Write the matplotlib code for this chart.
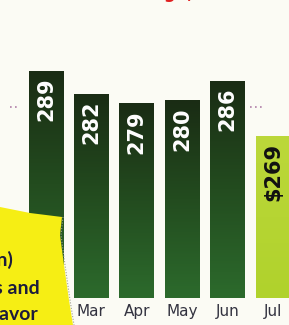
import matplotlib
matplotlib.use("Agg")
import matplotlib.pyplot as plt
import numpy as np
from matplotlib.colors import LinearSegmentedColormap
from matplotlib.patches import Polygon

months = ["Feb", "Mar", "Apr", "May", "Jun", "Jul"]
values = [289, 282, 279, 280, 286, 269]
labels = ["289", "282", "279", "280", "286", "$269"]
avg_value = 278

W, H = 289, 325
fig = plt.figure(figsize=(W / 100, H / 100), dpi=100)
bg = "#fbfbf4"
fig.patch.set_facecolor(bg)

ax = fig.add_axes([0, 1 - 298 / H, 1, 298 / H])
ax.set_facecolor(bg)

x = np.arange(len(months))
ylo, yhi = 219.2, 310.8
xlo, xhi = -1.013, -1.013 + W / 45.4

bars = ax.bar(x, values, width=0.77, color=["#24471c"] * 5 + ["#b5d334"], zorder=2)

dark = LinearSegmentedColormap.from_list("g", ["#2c6a2c", "#234c1f", "#1a2c14"])
grad = np.linspace(0, 1, 100).reshape(-1, 1)
for i, b in enumerate(bars[:5]):
    im = ax.imshow(grad, extent=[b.get_x(), b.get_x() + b.get_width(), ylo, values[i]],
                   origin="lower", aspect="auto", cmap=dark, zorder=3)
    im.set_clip_path(b)
lime = LinearSegmentedColormap.from_list("l", ["#b0d22c", "#bcd83a"])
b = bars[5]
im = ax.imshow(grad, extent=[b.get_x(), b.get_x() + b.get_width(), ylo, values[5]],
               origin="lower", aspect="auto", cmap=lime, zorder=3)
im.set_clip_path(b)

for i, (v, lab) in enumerate(zip(values, labels)):
    ax.annotate(lab, (x[i], v), xytext=(0, -5), textcoords="offset points",
                rotation=90, ha="center", va="top", fontsize=15, fontweight="bold",
                color="white" if i < 5 else "#111111", zorder=5)

# average dotted marks
ax.hlines(avg_value, -0.79, -0.64, colors="#b07fa8", linestyles=(0, (1, 2)), lw=1.2, zorder=1)
ax.hlines(avg_value, 4.49, 4.78, colors="#b07fa8", linestyles=(0, (1, 2)), lw=1.2, zorder=1)

ax.set_xlim(xlo, xhi)
ax.set_ylim(ylo, yhi)
ax.set_xticks(x)
ax.set_xticklabels(months, fontsize=11, color="#333340")
ax.tick_params(axis="x", length=0, pad=4)
ax.set_yticks([])
for s in ax.spines.values():
    s.set_visible(False)

# yellow sticker (figure pixel coords)
pts = [(0, 207), (30, 213), (62, 217), (60, 235), (64, 265), (69, 300), (73, 325), (0, 325)]
poly = Polygon([(px / W, 1 - py / H) for px, py in pts], closed=True,
               transform=fig.transFigure, facecolor="#f6ee14", edgecolor="none", zorder=10)
fig.patches.append(poly)
ex = [(62, 217), (60, 235), (64, 265), (69, 300), (73, 325)]
fig.add_artist(plt.Line2D([(p[0] + 1) / W for p in ex], [1 - p[1] / H for p in ex],
                          transform=fig.transFigure, color="#a0a090", lw=0.8,
                          linestyle=(0, (1, 1.5)), zorder=10))

sticker_txt = [("(in million)", 13, 260), ("sweets and", 40, 289), ("flavor", 38, 315)]
for t, px, py in sticker_txt:
    fig.text(px / W, 1 - py / H, t, ha="right", va="center", fontsize=14,
             fontweight="bold", family="Lato", color="#1c1c3c", zorder=11)

# red headline, mostly cut off at the top
fig.text(110 / W, 1 + 2 / H, "Average, $283", ha="left", va="baseline", fontsize=12,
         fontweight="bold", color="#e02020")

fig.savefig("out.png", dpi=100, facecolor=bg)
